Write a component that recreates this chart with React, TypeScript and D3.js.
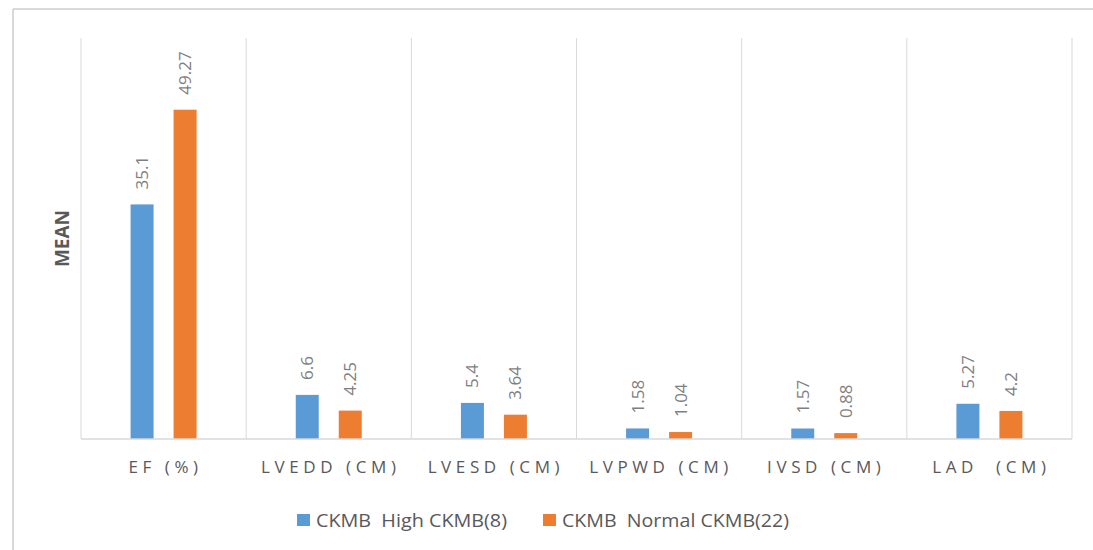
import React from "react";
import * as d3 from "d3";

const categories = ["EF (%)", "LVEDD (CM)", "LVESD (CM)", "LVPWD (CM)", "IVSD (CM)", "LAD  (CM)"];
const highValues = [35.1, 6.6, 5.4, 1.58, 1.57, 5.27];
const normalValues = [49.27, 4.25, 3.64, 1.04, 0.88, 4.2];
const highLabels = ["35.1", "6.6", "5.4", "1.58", "1.57", "5.27"];
const normalLabels = ["49.27", "4.25", "3.64", "1.04", "0.88", "4.2"];
const seriesNames = ["CKMB  High CKMB(8)", "CKMB  Normal CKMB(22)"];
const seriesColors = ["#5b9bd5", "#ed7d31"];
const yMax = 60;

export default function App() {
  const W = 1093, H = 550;
  const left = 81, right = 1072, top = 38, bottom = 439;
  const x = d3.scaleBand<string>().domain(categories).range([left, right]).paddingInner(0).paddingOuter(0);
  const y = d3.scaleLinear().domain([0, yMax]).range([bottom, top]);
  const bw = 23;
  const off = 21.5;
  const series = [
    { vals: highValues, labels: highLabels, color: seriesColors[0], dx: -off },
    { vals: normalValues, labels: normalLabels, color: seriesColors[1], dx: off },
  ];
  const font = "'Open Sans', 'Liberation Sans', sans-serif";
  const legendWidths = [191, 227];
  return (
    <svg width={W} height={H} style={{ position: "absolute", left: 0, top: 0, background: "#fff" }} fontFamily={font}>
      <rect x={0} y={0} width={W} height={H} fill="#fff" />
      <line x1={13} y1={9} x2={W} y2={9} stroke="#d9d9d9" strokeWidth={2} />
      <line x1={13} y1={9} x2={13} y2={H} stroke="#d9d9d9" strokeWidth={2} />
      {categories.map((c, i) => (
        <line key={"g" + i} x1={x(c)!} x2={x(c)!} y1={top} y2={bottom} stroke="#d9d9d9" strokeWidth={1} />
      ))}
      <line x1={right} x2={right} y1={top} y2={bottom} stroke="#d9d9d9" strokeWidth={1} />
      {series.map((s, si) =>
        categories.map((c, i) => {
          const cx = x(c)! + x.bandwidth() / 2 + s.dx;
          const yt = y(s.vals[i]);
          return (
            <g key={`b${si}-${i}`}>
              <rect x={cx - bw / 2} y={yt} width={bw} height={bottom - yt} fill={s.color} />
              <text
                transform={`translate(${cx + 6},${yt - 15}) rotate(-90)`}
                fontSize={17}
                fill="#7f7f7f"
                textAnchor="start"
              >
                {s.labels[i]}
              </text>
            </g>
          );
        })
      )}
      <line x1={left} x2={right} y1={bottom} y2={bottom} stroke="#d9d9d9" strokeWidth={1.5} />
      {categories.map((c, i) => (
        <text
          key={"c" + i}
          x={x(c)! + x.bandwidth() / 2 + 2}
          y={473}
          fontSize={17}
          fill="#595959"
          textAnchor="middle"
          letterSpacing={4.6}
          style={{ whiteSpace: "pre" }}
        >
          {c}
        </text>
      ))}
      <text
        transform={`translate(69,${(top + bottom) / 2}) rotate(-90)`}
        fontSize={19}
        fontWeight="bold"
        fill="#595959"
        textAnchor="middle"
      >
        MEAN
      </text>
      {seriesNames.map((n, i) => {
        const lx = i === 0 ? 297 : 543;
        return (
          <g key={"l" + i}>
            <rect x={lx} y={514} width={13} height={12} fill={seriesColors[i]} />
            <text
              x={lx + 19}
              y={527}
              fontSize={18}
              fill="#595959"
              textLength={legendWidths[i]}
              lengthAdjust="spacingAndGlyphs"
              style={{ whiteSpace: "pre" }}
            >
              {n}
            </text>
          </g>
        );
      })}
    </svg>
  );
}
